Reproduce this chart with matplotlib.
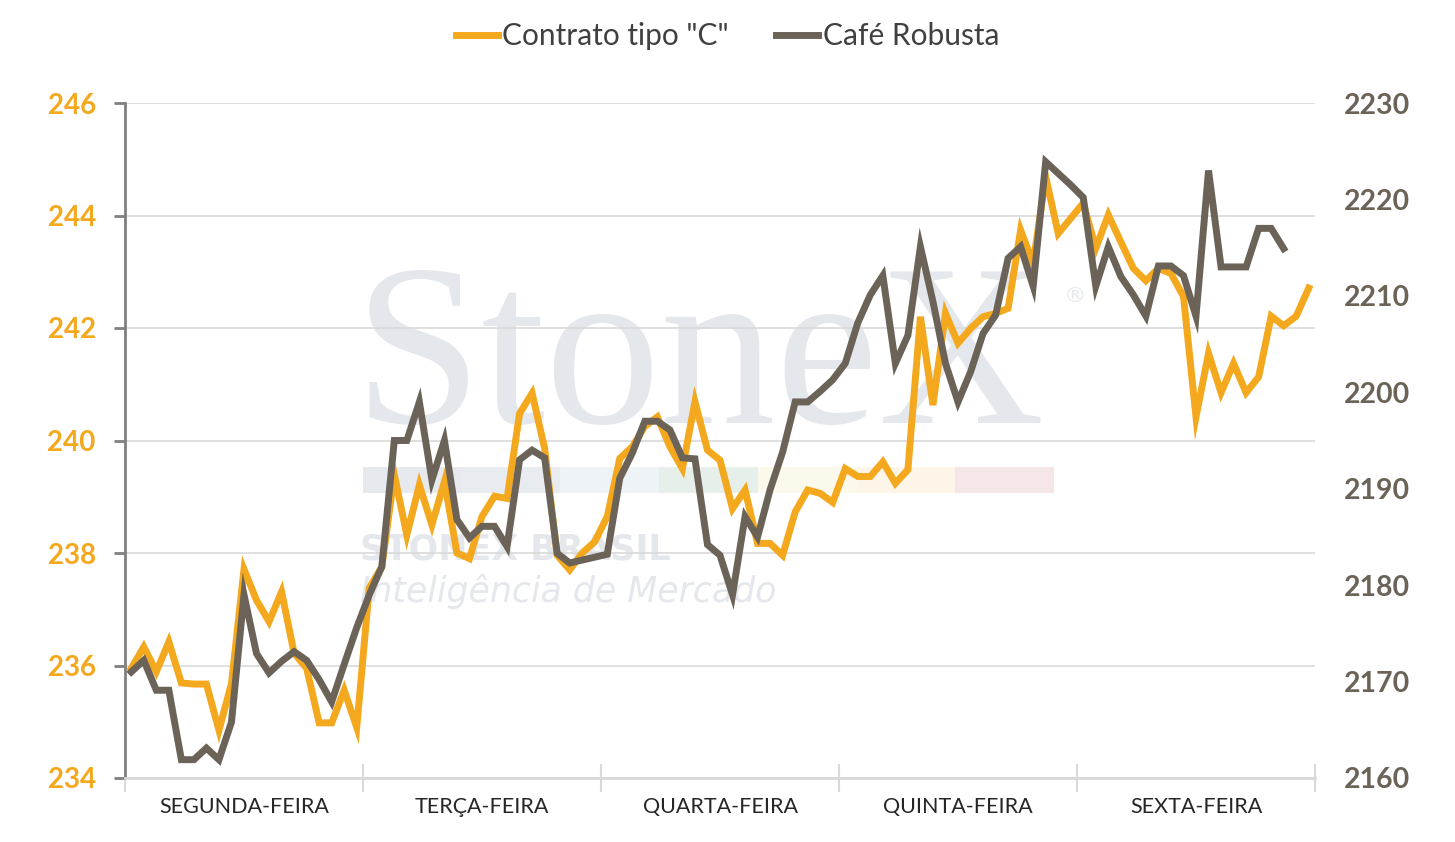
import matplotlib
matplotlib.use("Agg")
import matplotlib.pyplot as plt
import numpy as np
from matplotlib.patches import Rectangle

# ---- data ----
days = ["SEGUNDA-FEIRA", "TERÇA-FEIRA", "QUARTA-FEIRA", "QUINTA-FEIRA", "SEXTA-FEIRA"]
points_per_day = 19

contrato_c = [
    235.95, 236.33, 235.89, 236.42, 235.69, 235.67, 235.67, 234.85, 235.68, 237.71,
    237.16, 236.78, 237.31, 236.22, 235.95, 234.98, 234.98, 235.56, 234.90, 237.38,
    237.75, 239.39, 238.32, 239.21, 238.50, 239.27, 238.00, 237.90, 238.65, 239.01,
    238.97, 240.48, 240.84, 239.86, 237.96, 237.70, 238.00, 238.20, 238.65, 239.68,
    239.89, 240.25, 240.42, 239.89, 239.50, 240.69, 239.83, 239.65, 238.79, 239.12,
    238.17, 238.17, 237.96, 238.73, 239.12, 239.06, 238.90, 239.50, 239.36, 239.36,
    239.62, 239.24, 239.48, 242.20, 240.63, 242.26, 241.73, 241.99, 242.20, 242.26,
    242.35, 243.74, 243.15, 244.69, 243.68, 243.95, 244.22, 243.42, 244.01, 243.53,
    243.06, 242.84, 243.06, 242.97, 242.56, 240.42, 241.55, 240.85, 241.37, 240.85,
    241.13, 242.21, 242.04, 242.21, 242.71,
]

robusta = [
    2171.0, 2172.2, 2169.1, 2169.1, 2161.9, 2161.9, 2163.1, 2161.9, 2165.8, 2179.0,
    2172.9, 2170.9, 2172.1, 2173.1, 2172.2, 2170.2, 2167.9, 2171.8, 2175.6, 2179.0,
    2181.9, 2195.0, 2195.0, 2199.0, 2190.9, 2195.0, 2186.8, 2184.9, 2186.1, 2186.1,
    2184.0, 2193.0, 2194.0, 2193.2, 2183.3, 2182.3, 2182.6, 2182.9, 2183.2, 2191.1,
    2193.7, 2197.0, 2197.0, 2196.1, 2193.2, 2193.1, 2184.2, 2183.1, 2179.0, 2187.1,
    2185.0, 2189.9, 2193.8, 2199.0, 2199.0, 2200.1, 2201.3, 2203.0, 2207.2, 2210.1,
    2212.1, 2203.0, 2205.9, 2215.1, 2209.4, 2203.0, 2199.0, 2202.1, 2206.1, 2208.0,
    2213.9, 2215.1, 2211.0, 2223.9, 2222.7, 2221.5, 2220.2, 2211.0, 2215.1, 2212.0,
    2210.1, 2207.9, 2213.1, 2213.1, 2212.1, 2207.9, 2223.0, 2213.0, 2213.0, 2213.0,
    2217.0, 2217.0, 2214.9,
]

left_ticks = [234, 236, 238, 240, 242, 244, 246]
right_ticks = [2160, 2170, 2180, 2190, 2200, 2210, 2220, 2230]

ORANGE = "#F4A81D"
GRAY = "#6B6358"
FONT = "Lato"

W, H = 1455, 842
fig = plt.figure(figsize=(W / 100, H / 100), dpi=100)
ax = fig.add_axes([125 / W, 1 - 778 / H, (1315 - 125) / W, (778 - 103) / H])
ax2 = ax.twinx()

n = len(contrato_c)
x_c = np.arange(n)
x_r = np.arange(len(robusta))

# ---- watermark (figure-pixel positions) ----
def fx(px):
    return px / W

def fy(py):
    return 1 - py / H

wm = "#E4E7EC"
ax.text(fx(354), fy(423), "StoneX", transform=fig.transFigure, fontsize=166,
        family="Liberation Serif", color=wm, va="baseline", ha="left", zorder=0.1)
ax.text(fx(1064), fy(296), "®", transform=fig.transFigure, fontsize=16,
        family="DejaVu Sans", color=wm, va="center", ha="left", zorder=0.1)
stripe_cols = ["#E6E9EE", "#E8ECF1", "#EEF3F8", "#E6EFEA", "#FBF9EC", "#FDF5E8", "#F6E6E7"]
seg_w = (1054 - 363) / len(stripe_cols)
for k, c in enumerate(stripe_cols):
    ax.add_patch(Rectangle((fx(363 + k * seg_w), fy(493)), seg_w / W, 26 / H,
                           transform=fig.transFigure, facecolor=c, edgecolor="none",
                           zorder=0.1))
ax.text(fx(360), fy(560), "STONEX BRASIL", transform=fig.transFigure, fontsize=25,
        family="DejaVu Sans", weight="bold", color=wm, va="baseline", ha="left",
        zorder=0.1)
ax.text(fx(360), fy(602), "Inteligência de Mercado", transform=fig.transFigure,
        fontsize=25, family="DejaVu Sans", style="italic", color=wm,
        va="baseline", ha="left", zorder=0.1)

# ---- lines ----
l1, = ax.plot(x_c, contrato_c, color=ORANGE, lw=5, solid_joinstyle="miter",
              label='Contrato tipo "C"', zorder=3)
l2, = ax2.plot(x_r, robusta, color=GRAY, lw=5, solid_joinstyle="miter",
               label="Café Robusta", zorder=3)

# ---- axes styling ----
ax.set_xlim(-0.5, n - 0.5)
ax.set_ylim(234, 246)
ax2.set_ylim(2160, 2230)

ax.set_yticks(left_ticks)
ax.set_yticklabels([str(t) for t in left_ticks], color=ORANGE, fontsize=20,
                   family=FONT, weight="bold")
ax.tick_params(axis="y", length=8, width=2, color="#808080", pad=13)
ax.yaxis.grid(True, color="#D9D9D9", lw=1.2)
ax.set_axisbelow(True)

ax2.set_yticks(right_ticks)
ax2.set_yticklabels([str(t) for t in right_ticks], color=GRAY, fontsize=20.5,
                    family=FONT, weight="bold")
ax2.tick_params(axis="y", length=0, pad=21)

bounds = np.arange(len(days) + 1) * points_per_day - 0.5
centers = np.arange(len(days)) * points_per_day + (points_per_day - 1) / 2
ax.set_xticks(bounds)
ax.set_xticklabels([])
ax.tick_params(axis="x", which="major", direction="inout", length=20, width=1.5,
               color="#D9D9D9")
ax.set_xticks(centers, minor=True)
ax.set_xticklabels(days, minor=True, fontsize=15.5, family=FONT, color="#262626")
ax.tick_params(axis="x", which="minor", length=0, pad=14)

for a in (ax, ax2):
    for s in ("top", "right", "left", "bottom"):
        a.spines[s].set_visible(False)
ax.spines["left"].set_visible(True)
ax.spines["left"].set_color("#808080")
ax.spines["left"].set_linewidth(2)
ax.spines["bottom"].set_visible(True)
ax.spines["bottom"].set_color("#D9D9D9")
ax.spines["bottom"].set_linewidth(2)

ax.set_zorder(ax2.get_zorder() - 1)
ax2.patch.set_visible(False)

fig.legend([l1, l2], ['Contrato tipo "C"', "Café Robusta"], loc="center",
           bbox_to_anchor=(0.5, 1 - 36 / H), ncol=2, frameon=False,
           prop={"family": FONT, "size": 21.5}, labelcolor="#404040",
           handlelength=1.4, handletextpad=0.15, columnspacing=1.6)

fig.savefig("out.png", dpi=100)
